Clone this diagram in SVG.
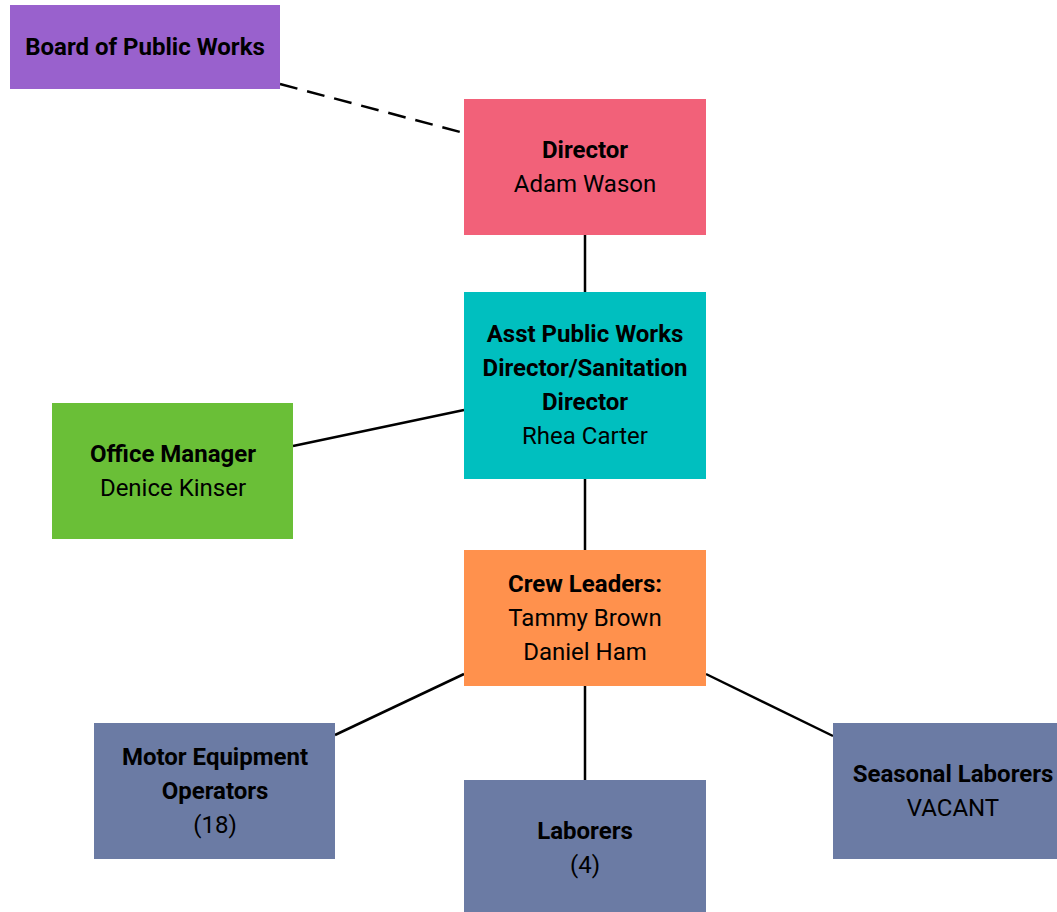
<svg xmlns="http://www.w3.org/2000/svg" width="1057" height="912" viewBox="0 0 1057 912">
<style>
text{font-family:Roboto,"Liberation Sans",sans-serif;font-size:24px;fill:#000;text-anchor:middle;dominant-baseline:central}
.b{font-weight:bold}
.c{stroke:#000;stroke-width:2.5;fill:none}
</style>
<rect width="1057" height="912" fill="#fff"/>
<g id="connectors">
<line class="c" x1="280" y1="84" x2="464" y2="133" stroke-dasharray="18,10"/>
<line class="c" x1="585" y1="235" x2="585" y2="292"/>
<line class="c" x1="293" y1="446" x2="464" y2="410"/>
<line class="c" x1="585" y1="479" x2="585" y2="550"/>
<line class="c" x1="464" y1="674" x2="335" y2="735"/>
<line class="c" x1="585" y1="686" x2="585" y2="780"/>
<line class="c" x1="706" y1="674" x2="833" y2="736"/>
</g>
<g id="board"><rect x="10" y="5" width="270" height="84" fill="#9961CD"/><text class="b" x="145" y="47">Board of Public Works</text></g>
<g id="director"><rect x="464" y="99" width="242" height="136" fill="#F26179"/><text class="b" x="585" y="150">Director</text><text x="585" y="184">Adam Wason</text></g>
<g id="asst"><rect x="464" y="292" width="242" height="187" fill="#00BFBF"/><text class="b" x="585" y="334">Asst Public Works</text><text class="b" x="585" y="368">Director/Sanitation</text><text class="b" x="585" y="402">Director</text><text x="585" y="436">Rhea Carter</text></g>
<g id="office"><rect x="52" y="403" width="241" height="136" fill="#6ABF37"/><text class="b" x="173" y="454">Office Manager</text><text x="173" y="488">Denice Kinser</text></g>
<g id="crew"><rect x="464" y="550" width="242" height="136" fill="#FF914D"/><text class="b" x="585" y="584">Crew Leaders:</text><text x="585" y="618">Tammy Brown</text><text x="585" y="652">Daniel Ham</text></g>
<g id="motor"><rect x="94" y="723" width="241" height="136" fill="#6B7BA4"/><text class="b" x="215" y="757">Motor Equipment</text><text class="b" x="215" y="791">Operators</text><text x="215" y="825">(18)</text></g>
<g id="laborers"><rect x="464" y="780" width="242" height="132" fill="#6B7BA4"/><text class="b" x="585" y="831">Laborers</text><text x="585" y="865">(4)</text></g>
<g id="seasonal"><rect x="833" y="723" width="241" height="136" fill="#6B7BA4"/><text class="b" x="953" y="774">Seasonal Laborers</text><text x="953" y="808">VACANT</text></g>
</svg>
